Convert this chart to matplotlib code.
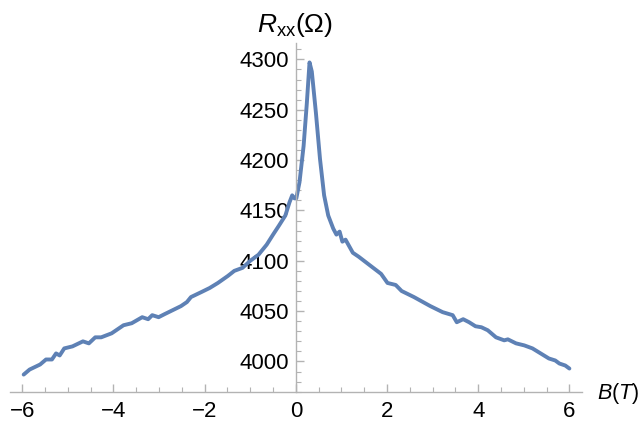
import matplotlib
matplotlib.use("Agg")
import matplotlib.pyplot as plt
from matplotlib.ticker import MultipleLocator

# Data
B_field = [-5.97, -5.84, -5.61, -5.48, -5.35, -5.26, -5.18, -5.08, -4.90, -4.67,
           -4.54, -4.40, -4.27, -4.04, -3.78, -3.60, -3.37, -3.24, -3.15, -3.01,
           -2.88, -2.70, -2.52, -2.39, -2.30, -2.07, -1.89, -1.71, -1.49, -1.35,
           -1.17, -1.00, -0.82, -0.64, -0.50, -0.37, -0.23, -0.14, -0.08, -0.03,
           0.01, 0.08, 0.17, 0.24, 0.30, 0.35, 0.44, 0.53, 0.62, 0.71,
           0.82, 0.89, 0.96, 1.02, 1.09, 1.25, 1.38, 1.61, 1.87, 2.01,
           2.19, 2.32, 2.59, 2.95, 3.22, 3.44, 3.53, 3.67, 3.80, 3.94,
           4.07, 4.21, 4.39, 4.57, 4.65, 4.83, 5.01, 5.19, 5.37, 5.55,
           5.69, 5.78, 5.91, 6.00]
R_xx = [3987, 3992, 3997, 4002, 4002, 4008, 4006, 4013, 4015, 4020,
        4018, 4024, 4024, 4028, 4036, 4038, 4044, 4042, 4046, 4044,
        4047, 4051, 4055, 4059, 4064, 4069, 4073, 4078, 4085, 4090,
        4093, 4100, 4106, 4116, 4126, 4135, 4145, 4158, 4165, 4162,
        4162, 4178, 4214, 4256, 4297, 4288, 4247, 4201, 4165, 4145,
        4132, 4126, 4129, 4119, 4121, 4108, 4104, 4096, 4087, 4078,
        4076, 4070, 4064, 4055, 4049, 4046, 4039, 4042, 4039, 4035,
        4034, 4031, 4024, 4021, 4022, 4018, 4016, 4013, 4008, 4003,
        4001, 3998, 3996, 3993]

x_ticks = [-6, -4, -2, 0, 2, 4, 6]
y_ticks = [4000, 4050, 4100, 4150, 4200, 4250, 4300]

plt.rcParams['font.family'] = ['Liberation Sans', 'DejaVu Sans']
plt.rcParams['mathtext.fontset'] = 'custom'
plt.rcParams['mathtext.rm'] = 'Liberation Sans'
plt.rcParams['mathtext.it'] = 'Liberation Sans:italic'

W, H = 642, 423
fig = plt.figure(figsize=(W / 100, H / 100), dpi=100)
left, right = 10 / W, 581.7 / W
bottom, top = 1 - 391.7 / H, 1 - 43.3 / H
ax = fig.add_axes([left, bottom, right - left, top - bottom])

ax.plot(B_field, R_xx, color='#5E81B5', lw=2.8, solid_joinstyle='round',
        solid_capstyle='round')

ax.set_xlim(-6.27, 6.27)
ax.set_ylim(3970, 4316)

axis_col = '#b3b3b3'
for s in ['top', 'right']:
    ax.spines[s].set_visible(False)
ax.spines['left'].set_position(('data', 0))
ax.spines['bottom'].set_position(('data', 3970))
for s in ['left', 'bottom']:
    ax.spines[s].set_color(axis_col)
    ax.spines[s].set_linewidth(1.0)

ax.set_xticks(x_ticks)
ax.set_yticks(y_ticks)
ax.xaxis.set_minor_locator(MultipleLocator(0.5))
ax.yaxis.set_minor_locator(MultipleLocator(10))
ax.tick_params(axis='x', which='major', direction='in', length=6, width=1,
               color=axis_col, labelsize=16, pad=7, labelcolor='black')
ax.tick_params(axis='x', which='minor', direction='in', length=3.5, width=0.8,
               color=axis_col)
ax.tick_params(axis='y', which='major', direction='in', length=6, width=1,
               color=axis_col, labelsize=16, pad=5, labelcolor='black')
ax.tick_params(axis='y', which='minor', direction='in', length=3.5, width=0.8,
               color=axis_col)
ax.set_facecolor('none')

fig.text(295 / W, 1 - 32 / H, r'$R_{\mathrm{xx}}(\Omega)$', fontsize=19,
         ha='center', va='baseline')
fig.text(597 / W, 1 - 399 / H, r'$B(T)$', fontsize=15.5, ha='left',
         va='baseline')

fig.savefig('out.png', dpi=100)
